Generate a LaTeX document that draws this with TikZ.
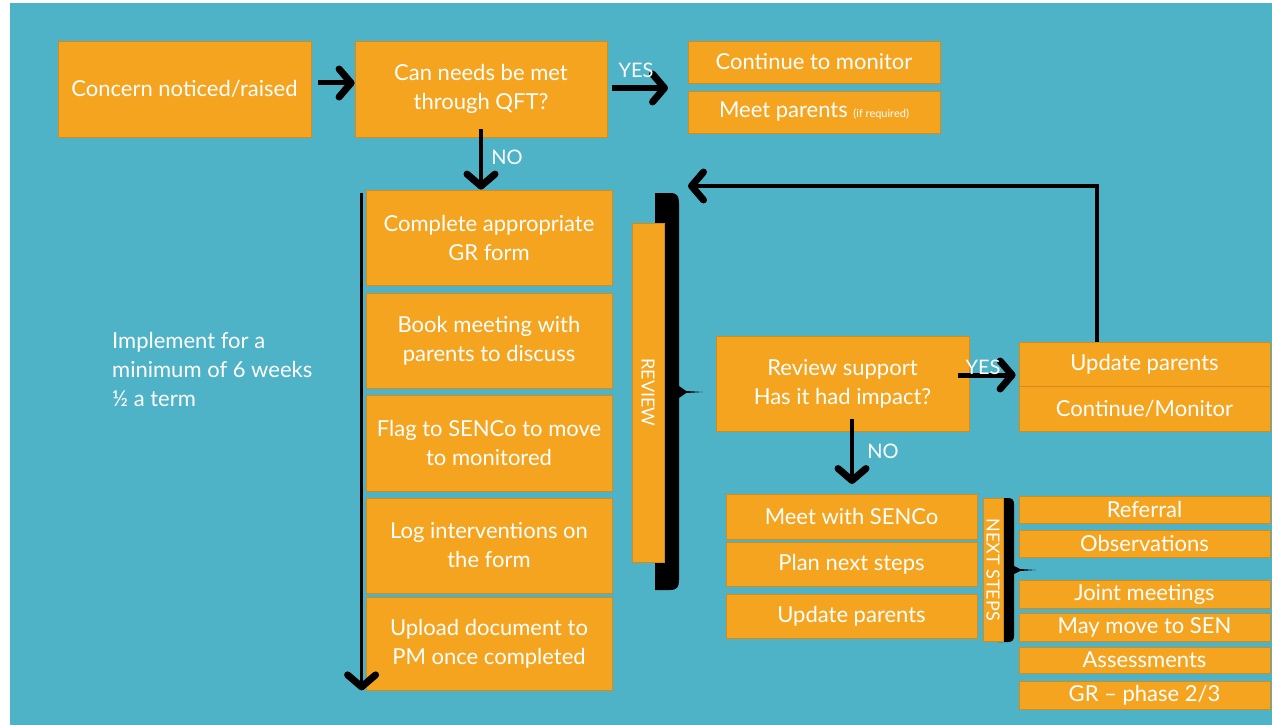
\documentclass[tikz,border=0pt]{standalone}
\usepackage{fontspec}
\setmainfont{Lato}
\usetikzlibrary{arrows.meta}
\definecolor{sea}{HTML}{4FB3C8}
\definecolor{amber}{HTML}{F5A420}
\definecolor{amberline}{HTML}{D38C1C}

\begin{document}
\begin{tikzpicture}[x=1pt, y=-1pt,
  box/.style={draw=amberline, line width=0.8pt, fill=amber, text=white, align=center, inner sep=0pt, font=\fontsize{22}{29}\selectfont},
  bar/.style={box, rotate=-90, font=\fontsize{18}{20}\selectfont},
  lbl/.style={text=white, inner sep=0pt, font=\fontsize{20}{24}\selectfont},
  arr/.style={line width=5pt, -{Straight Barb[length=12pt,width=28pt,line width=7pt,round]}},
]
\useasboundingbox (0,0) rectangle (1272,725);
\fill[sea] (10,3) rectangle (1272,725);

% top row
\node[box, minimum width=253pt, minimum height=96pt] (concern) at (184.5,89) {Concern noticed/raised};
\node[box, minimum width=252pt, minimum height=96pt] (qft) at (481,89) {Can needs be met\\through QFT?};
\node[box, minimum width=252pt, minimum height=42pt] (monitor) at (814,62) {Continue to monitor};
\node[box, minimum width=252pt, minimum height=42pt] (meetpar) at (814,112) {Meet parents {\fontsize{11}{12}\selectfont (if required)}};

% left column
\node[box, minimum width=246pt, minimum height=95pt] (grform) at (489,237.5) {Complete appropriate\\GR form};
\node[box, minimum width=246pt, minimum height=95pt] (book) at (489,340.5) {Book meeting with\\parents to discuss};
\node[box, minimum width=246pt, minimum height=96pt] (flag) at (489,443) {Flag to SENCo to move\\to monitored};
\node[box, minimum width=246pt, minimum height=95pt] (logint) at (489,545.5) {Log interventions on\\the form};
\node[box, minimum width=246pt, minimum height=93pt] (upload) at (489,643.5) {Upload document to\\PM once completed};
\node[lbl, anchor=north west, align=left, font=\fontsize{22}{29}\selectfont] (weeks) at (112,332) {Implement for a\\minimum of 6 weeks\\½ a term};

% review
\fill (655,193) -- (670,193) .. controls (677,193) and (679,196) .. (679,203) -- (679,386) -- (686,391) -- (703,392) -- (686,393) -- (679,398) -- (679,580) .. controls (679,587) and (677,590) .. (670,590) -- (655,590) -- cycle;
\node[bar, minimum width=339pt, minimum height=32pt] (reviewbar) at (648,392.5) {REVIEW};
\node[box, minimum width=253pt, minimum height=95pt] (support) at (842.5,383.5) {Review support\\Has it had impact?};
\node[box, minimum width=251pt, minimum height=44pt] (updone) at (1144.5,364) {Update parents};
\node[box, minimum width=251pt, minimum height=45pt] (contmon) at (1144.5,408.5) {Continue/Monitor};

% next steps
\node[box, minimum width=251pt, minimum height=45pt] (senco) at (851.5,516.5) {Meet with SENCo};
\node[box, minimum width=251pt, minimum height=44pt] (plan) at (851.5,564) {Plan next steps};
\node[box, minimum width=251pt, minimum height=44pt] (updtwo) at (851.5,616) {Update parents};
\fill (998,498) -- (1008,498) .. controls (1012,498) and (1014,500) .. (1014,504) -- (1014,566) -- (1020,569) -- (1036,570) -- (1020,571) -- (1014,574) -- (1014,636) .. controls (1014,640) and (1012,642) .. (1008,642) -- (998,642) -- cycle;
\node[bar, minimum width=143pt, minimum height=20pt] (nextbar) at (993,569.5) {NEXT STEPS};
\node[box, minimum width=251pt, minimum height=27pt] (referral) at (1144.5,509.5) {Referral};
\node[box, minimum width=251pt, minimum height=27pt] (obs) at (1144.5,543.5) {Observations};
\node[box, minimum width=251pt, minimum height=28pt] (joint) at (1144.5,594) {Joint meetings};
\node[box, minimum width=251pt, minimum height=28pt] (maysen) at (1144.5,627) {May move to SEN};
\node[box, minimum width=251pt, minimum height=26pt] (assess) at (1144.5,660) {Assessments};
\node[box, minimum width=251pt, minimum height=28pt] (phase) at (1144.5,695) {GR -- phase 2/3};

% connectors
\coordinate (yesend) at (668,88);
\coordinate (backend) at (688,186);
\coordinate (noend) at (852,484);
\draw[arr] ([xshift=7pt,yshift=6pt]concern.east) -- ([yshift=6pt]qft.west);
\draw[arr] (qft.east -| 612,0) ++(0,-1) -- (yesend);
\node[lbl] (yesone) at (636,70) {YES};
\draw[arr, line width=4pt] ([yshift=8pt]qft.south) -- (qft.south |- grform.north);
\node[lbl] (noone) at (507,157) {NO};
\draw[arr, line width=3.5pt] ([xshift=-4pt,yshift=-3pt]grform.north west) -- ([xshift=-4pt]grform.north west |- upload.south);
\draw[arr] ([xshift=-11pt,yshift=8.5pt]support.east) -- ([yshift=8.5pt,xshift=-3pt]support.east -| updone.west);
\node[lbl] (yestwo) at (983,367) {YES};
\draw[arr, line width=4pt] ([xshift=-47.5pt]updone.north) |- (backend);
\draw[arr, line width=4pt] (noend |- support.south) ++(0,-12) -- (noend);
\node[lbl] (notwo) at (883,451) {NO};

\end{tikzpicture}
\end{document}
